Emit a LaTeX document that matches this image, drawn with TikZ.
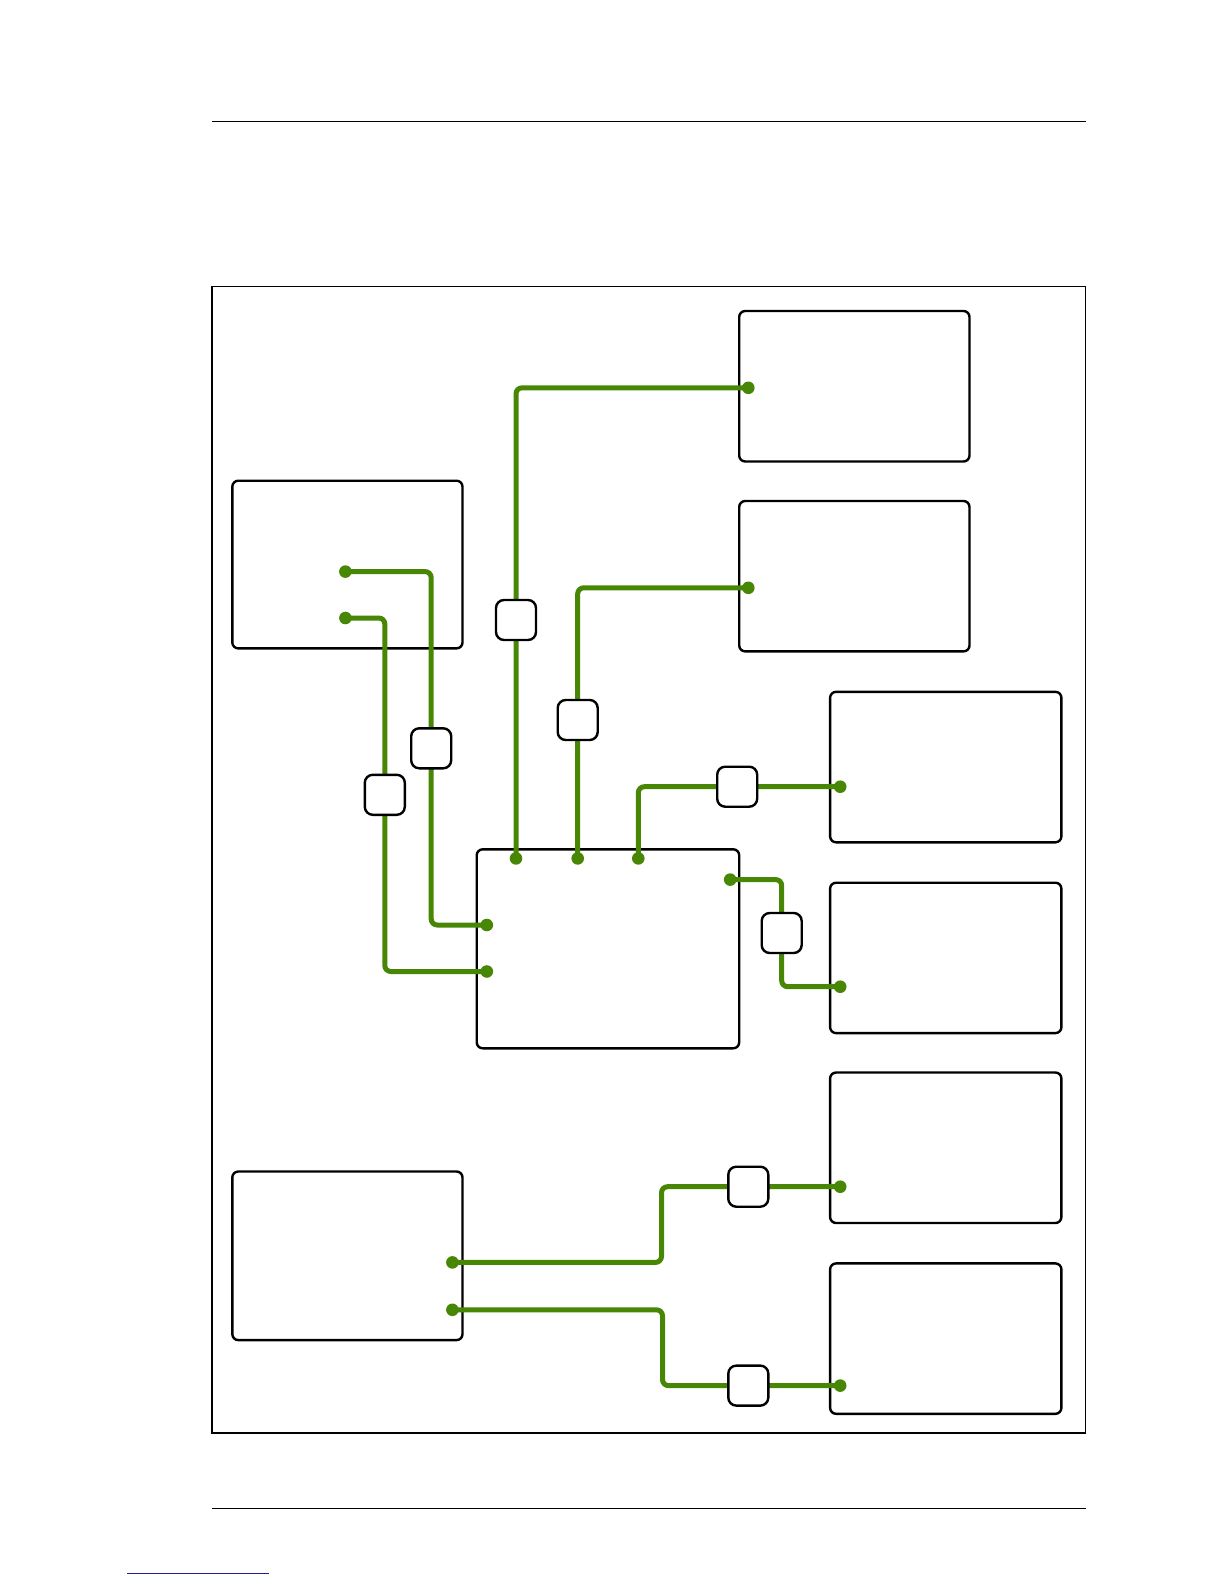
\documentclass[tikz,border=0pt]{standalone}
\usetikzlibrary{calc}
\definecolor{wire}{RGB}{72,135,5}
\definecolor{linkblue}{RGB}{30,30,140}
\begin{document}
\begin{tikzpicture}[x=1pt,y=-1pt,
  bigbox/.style={draw=black,line width=2.4pt,rounded corners=6pt,fill=white,inner sep=0pt,outer sep=0pt},
  smallbox/.style={draw=black,line width=2.4pt,rounded corners=8pt,fill=white,minimum width=40pt,minimum height=40pt,inner sep=0pt},
  wireline/.style={draw=wire,line width=5pt,rounded corners=6pt},
  port/.style={fill=wire},
  rule/.style={draw=black,line width=1.3pt}]
\useasboundingbox (0,0) rectangle (1224,1584);
% page rules and frame
\coordinate (rt1) at (212,121.2); \coordinate (rt2) at (1085.6,121.2);
\coordinate (rb1) at (212,1508.8); \coordinate (rb2) at (1085.6,1508.8);
\draw[rule] (rt1) -- (rt2);
\draw[rule] (rb1) -- (rb2);
\coordinate (lk1) at (127.2,1573.4); \coordinate (lk2) at (268.6,1573.4);
\draw[draw=linkblue,line width=1.3pt] (lk1) -- (lk2);
\node[draw=black,line width=1.3pt,minimum width=873.6pt,minimum height=1146.2pt,inner sep=0pt] (frame) at (648.8,859.9) {};
% big boxes
\node[bigbox,minimum width=230.3pt,minimum height=150.5pt] (A) at (854.35,386.25) {};
\node[bigbox,minimum width=230.3pt,minimum height=150.4pt] (B) at (854.35,576.2) {};
\node[bigbox,minimum width=230.2pt,minimum height=167.7pt] (C) at (347.4,564.55) {};
\node[bigbox,minimum width=231.3pt,minimum height=150.5pt] (D) at (945.75,767.05) {};
\node[bigbox,minimum width=262.5pt,minimum height=199pt] (E) at (607.95,948.8) {};
\node[bigbox,minimum width=231.3pt,minimum height=150.4pt] (F) at (945.75,957.9) {};
\node[bigbox,minimum width=231.3pt,minimum height=150.5pt] (G) at (945.75,1147.75) {};
\node[bigbox,minimum width=230.2pt,minimum height=168.6pt] (H) at (347.4,1255.8) {};
\node[bigbox,minimum width=231.3pt,minimum height=150.4pt] (I) at (945.75,1338.6) {};
% ports
\coordinate (E1) at (516,858.4);
\coordinate (E2) at (577.7,858.4);
\coordinate (E3) at (638.3,858.4);
\coordinate (E4) at (730.2,879.6);
\coordinate (E5) at (486.8,925);
\coordinate (E6) at (486.8,971.5);
\coordinate (Ap) at (748.3,387.8);
\coordinate (Bp) at (748.3,587.8);
\coordinate (Dp) at (840.2,786.7);
\coordinate (Fp) at (840.2,986.7);
\coordinate (C1) at (345.4,571.6);
\coordinate (C2) at (345.4,618);
\coordinate (H1) at (452.4,1262.4);
\coordinate (H2) at (452.4,1309.8);
\coordinate (Gp) at (840.2,1186.7);
\coordinate (Ip) at (840.2,1385.6);
% wires
\draw[wireline] (E1) -- (E1 |- Ap) -- (Ap);
\draw[wireline] (E2) -- (E2 |- Bp) -- (Bp);
\draw[wireline] (E3) -- (E3 |- Dp) -- (Dp);
\draw[wireline] (E4) -- (781.7,879.6) -- (781.7,986.7) -- (Fp);
\draw[wireline] (C1) -- (431.2,571.6) -- (431.2,925) -- (E5);
\draw[wireline] (C2) -- (384.8,618) -- (384.8,971.5) -- (E6);
\draw[wireline] (H1) -- (661.5,1262.4) -- (661.5,1186.7) -- (Gp);
\draw[wireline] (H2) -- (662.5,1309.8) -- (662.5,1385.6) -- (Ip);
% port dots
\foreach \p in {E1,E2,E3,E4,E5,E6,Ap,Bp,Dp,Fp,C1,C2,H1,H2,Gp,Ip}
  \fill[port] (\p) circle (6.3pt);
% small boxes on wires
\node[smallbox] (s1) at (516,620) {};
\node[smallbox] (s2) at (577.7,720) {};
\node[smallbox] (s3) at (737.2,786.7) {};
\node[smallbox] (s4) at (781.7,933) {};
\node[smallbox] (s5) at (431.2,748.3) {};
\node[smallbox] (s6) at (384.8,794.8) {};
\node[smallbox] (s7) at (748.3,1186.7) {};
\node[smallbox] (s8) at (748.3,1385.6) {};
\end{tikzpicture}
\end{document}
